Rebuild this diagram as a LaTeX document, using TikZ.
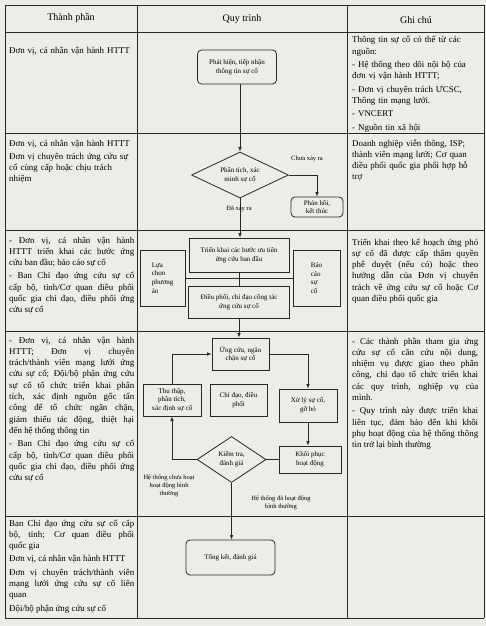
\documentclass[tikz,border=0pt]{standalone}
\usepackage{fontspec}
\setmainfont{Liberation Serif}
\usetikzlibrary{arrows.meta,shapes.geometric}
\definecolor{bg}{RGB}{236,236,233}
\definecolor{ln}{RGB}{40,40,40}
\newcommand\fsz[2]{\fontsize{#1}{#2}\selectfont}
\tikzset{r/.style={draw=ln,fill=bg,line width=.8pt,align=center,inner sep=1pt,font=\fsz{7}{8.6}},
 t/.style={r,rounded corners=4pt},
 d/.style={r,diamond,aspect=2,inner sep=0pt},
 wire/.style={draw=ln,line width=.7pt},
 arr/.style={wire,-{Latex[length=4.5pt,width=3.6pt]}},
 lab/.style={font=\fsz{6.5}{7.8},align=center,inner sep=0pt},
 hd/.style={font=\fsz{10}{12}},
 txt/.style={anchor=base west,inner sep=0pt,text width=125pt,font=\fsz{8.9}{11.3},
  execute at begin node={\setlength\parskip{2pt}\setlength\parindent{0pt}}},
 jt/.style={txt,align=justify},
 lt/.style={txt,align=left}}
\begin{document}
\begin{tikzpicture}[x=1pt,y=-1pt]
\fill[bg] (0,0) rectangle (486,626);
\useasboundingbox (0,0) rectangle (486,626);
\foreach \x in {5,137,347,484}{\draw[ln,line width=.9pt] (\x,5)--(\x,618);}
\foreach \y in {5,32,133,230,331,516,618}{\draw[ln,line width=.9pt] (5,\y)--(484,\y);}
\node[hd] (h1) at (71,18) {Thành phần};
\node[hd] (h2) at (242,19) {Quy trình};
\node[hd] (h3) at (416,20) {Ghi chú};
\node[lt] (c1) at (9,53) {Đơn vị, cá nhân vận hành HTTT};
\node[lt] (c2) at (9,146) {Đơn vị, cá nhân vận hành HTTT\par Đơn vị chuyên trách ứng cứu sự\\cố cùng cấp hoặc chịu trách\\nhiệm};
\node[jt] (c3) at (9,243) {- Đơn vị, cá nhân vận hành\linebreak HTTT triển khai các bước ứng\linebreak cứu ban đầu; báo cáo sự cố\par - Ban Chỉ đạo ứng cứu sự cố\linebreak cấp bộ, tỉnh/Cơ quan điều phối\linebreak quốc gia chỉ đạo, điều phối ứng\linebreak cứu sự cố};
\node[jt] (c4) at (9,343) {- Đơn vị, cá nhân vận hành\linebreak HTTT; Đơn vị chuyên\linebreak trách/thành viên mạng lưới ứng\linebreak cứu sự cố; Đội/bộ phận ứng cứu\linebreak sự cố tổ chức triển khai phân\linebreak tích, xác định nguồn gốc tấn\linebreak công để tổ chức ngăn chặn,\linebreak giảm thiểu tác động, thiệt hại\linebreak đến hệ thống thông tin\par - Ban Chỉ đạo ứng cứu sự cố\linebreak cấp bộ, tỉnh/Cơ quan điều phối\linebreak quốc gia chỉ đạo, điều phối ứng\linebreak cứu sự cố};
\node[jt] (c5) at (9,526) {Ban Chỉ đạo ứng cứu sự cố cấp\linebreak bộ, tỉnh; Cơ quan điều phối\linebreak quốc gia\par Đơn vị, cá nhân vận hành HTTT\par Đơn vị chuyên trách/thành viên\linebreak mạng lưới ứng cứu sự cố liên\linebreak quan\par Đội/bộ phận ứng cứu sự cố};
\node[lt] (n1) at (352,43) {Thông tin sự cố có thể từ các\\nguồn:\par - Hệ thống theo dõi nội bộ của\\đơn vị vận hành HTTT;\par - Đơn vị chuyên trách ƯCSC,\\Thông tin mạng lưới.\par - VNCERT\par - Nguồn tin xã hội};
\node[lt] (n2) at (352,146) {Doanh nghiệp viễn thông, ISP;\\thành viên mạng lưới; Cơ quan\\điều phối quốc gia phối hợp hỗ\\trợ};
\node[jt,text width=126pt] (n3) at (352,245) {Triển khai theo kế hoạch ứng phó\linebreak sự cố đã được cấp thẩm quyền\linebreak phê duyệt (nếu có) hoặc theo\linebreak hướng dẫn của Đơn vị chuyên\linebreak trách về ứng cứu sự cố hoặc Cơ\linebreak quan điều phối quốc gia};
\node[jt,text width=126pt] (n4) at (352,344) {- Các thành phần tham gia ứng\linebreak cứu sự cố căn cứu nội dung,\linebreak nhiệm vụ được giao theo phân\linebreak công, chỉ đạo tổ chức triển khai\linebreak các quy trình, nghiệp vụ của\linebreak mình.\par - Quy trình này được triển khai\linebreak liên tục, đảm bảo đến khi khôi\linebreak phụ hoạt động của hệ thống thông\linebreak tin trở lại bình thường};
\node[t,minimum width=79pt,minimum height=34pt] (ph) at (237,67) {Phát hiện, tiếp nhận\\thông tin sự cố};
\node[d,minimum width=97pt,minimum height=46pt] (pt) at (240,175) {Phân tích, xác\\minh sự cố};
\node[t,minimum width=52pt,minimum height=20pt] (kth) at (317,207) {Phản hồi,\\kết thúc};
\node[r,minimum width=100pt,minimum height=34pt] (tk) at (239,255) {Triển khai các bước ưu tiên\\ứng cứu ban đầu};
\node[r,minimum width=101pt,minimum height=32pt] (dp) at (239,302) {Điều phối, chỉ đạo công tác\\ứng cứu sự cố};
\node[r,align=left,minimum width=45pt,minimum height=56pt] (lc) at (162.5,278) {Lựa\\chọn\\phương\\án};
\node[r,align=left,minimum width=47pt,minimum height=56pt] (bc) at (316.5,278) {Báo\\cáo\\sự\\cố};
\node[r,minimum width=57pt,minimum height=32pt] (uc) at (240.5,354) {Ứng cứu, ngăn\\chặn sự cố};
\node[r,minimum width=58pt,minimum height=32pt] (tt) at (172,400) {Thu thập,\\phân tích,\\xác định sự cố};
\node[r,minimum width=57pt,minimum height=32pt] (cd) at (238.5,400) {Chỉ đạo, điều\\phối};
\node[r,minimum width=58pt,minimum height=33pt] (xl) at (308,405.5) {Xử lý sự cố,\\gỡ bỏ};
\node[r,minimum width=62pt,minimum height=27pt] (kp) at (310,459.5) {Khôi phục\\hoạt động};
\node[d,minimum width=69pt,minimum height=46pt] (kt) at (231.5,459.5) {Kiểm tra,\\đánh giá};
\node[t,minimum width=89pt,minimum height=35pt] (tg) at (230.5,557.5) {Tổng kết, đánh giá};
\draw[arr] (ph.south -| pt.north) -- (pt.north);
\draw[arr] (pt.east) -| (kth.north);
\draw[arr] (pt.south) -- (pt.south |- tk.north);
\draw[wire] (tk.south) -- (tk.south |- dp.north);
\draw[wire] (lc.east) -- (bc.west);
\draw[arr] (dp.south) -- (dp.south |- uc.north);
\draw[arr] (uc.east) -| (xl.north);
\draw[arr] (xl.south) -- (xl.south |- kp.north);
\draw[wire] (kp.west) -- (kt.east);
\draw[arr] (kt.west) -| (tt.south);
\draw[arr] (tt.north) |- (uc.west);
\draw[arr] (kt.south) -- (kt.south |- tg.north);
\node[lab] (l1) at (307,159) {Chưa xảy ra};
\node[lab] (l2) at (239,209) {Đã xảy ra};
\node[lab] (l3) at (169,486) {Hệ thống chưa hoạt\\hoạt động bình\\thường};
\node[lab] (l4) at (281,503) {Hệ thống đã hoạt động\\bình thường};
\end{tikzpicture}
\end{document}
